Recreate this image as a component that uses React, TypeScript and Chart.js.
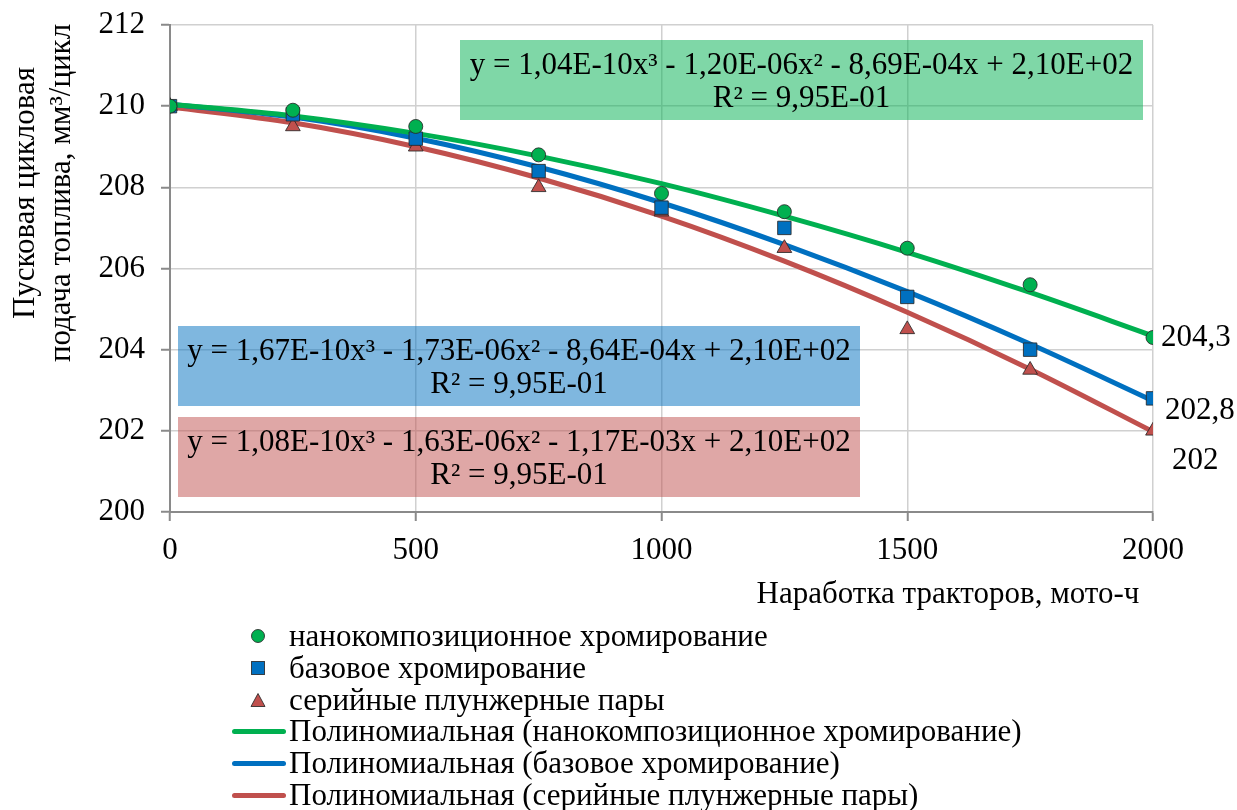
import React, { useEffect, useRef } from 'react';
import { Chart, registerables } from 'chart.js';

Chart.register(...registerables);

// ---------- data ----------
const X_VALUES = [0, 250, 500, 750, 1000, 1250, 1500, 1750, 2000];

const SERIES_NAMES = [
  'нанокомпозиционное хромирование',
  'базовое хромирование',
  'серийные плунжерные пары',
];

const NANO_POINTS = [210.0, 209.9, 209.5, 208.8, 207.85, 207.4, 206.5, 205.6, 204.3];
const BASE_POINTS = [210.0, 209.8, 209.2, 208.4, 207.5, 207.0, 205.3, 204.0, 202.8];
const SERIAL_POINTS = [210.0, 209.5, 209.0, 208.0, 207.4, 206.5, 204.5, 203.5, 202.0];

// trend curves at the same x positions
const NANO_TREND = [210.05, 209.76, 209.33, 208.77, 208.09, 207.29, 206.4, 205.41, 204.34];
const BASE_TREND = [210.05, 209.73, 209.21, 208.5, 207.62, 206.59, 205.43, 204.14, 202.74];
const SERIAL_TREND = [209.98, 209.59, 209.0, 208.23, 207.29, 206.18, 204.92, 203.52, 201.98];

const EQUATIONS = [
  'y = 1,04E-10x³ - 1,20E-06x² - 8,69E-04x + 2,10E+02',
  'y = 1,67E-10x³ - 1,73E-06x² - 8,64E-04x + 2,10E+02',
  'y = 1,08E-10x³ - 1,63E-06x² - 1,17E-03x + 2,10E+02',
];
const R2_TEXTS = ['R² = 9,95E-01', 'R² = 9,95E-01', 'R² = 9,95E-01'];

const END_LABELS = ['204,3', '202,8', '202'];

const X_TITLE = 'Наработка тракторов, мото-ч';
const Y_TITLE = ['Пусковая цикловая', 'подача топлива, мм³/цикл'];

// ---------- styles ----------
const FONT = '"Liberation Serif", "Times New Roman", serif';
const TEXT_SIZE = 31;
const COLORS = ['#00b050', '#0070c0', '#c0504d'];
const BOX_COLORS = ['rgba(0,176,80,0.5)', 'rgba(0,112,192,0.5)', 'rgba(192,80,77,0.5)'];
const MARKER_BORDER = 'rgba(40,40,40,0.85)';

const pts = (ys: number[]) => X_VALUES.map((x, i) => ({ x, y: ys[i] }));

const overlayPlugin = {
  id: 'overlay',
  afterDraw(chart: any) {
    const ctx = chart.ctx as CanvasRenderingContext2D;
    const xs = chart.scales.x;
    const ys = chart.scales.y;
    ctx.save();

    // equation boxes [left, top, width, height]
    const boxes = [
      [460, 40, 683, 80],
      [178, 326, 682, 80],
      [178, 417, 682, 80],
    ];
    boxes.forEach((b, i) => {
      ctx.fillStyle = BOX_COLORS[i];
      ctx.fillRect(b[0], b[1], b[2], b[3]);
      ctx.fillStyle = '#000';
      ctx.font = `${TEXT_SIZE}px ${FONT}`;
      ctx.textAlign = 'center';
      ctx.textBaseline = 'middle';
      const cx = b[0] + b[2] / 2;
      ctx.fillText(EQUATIONS[i], cx, b[1] + 26);
      ctx.fillText(R2_TEXTS[i], cx, b[1] + 59);
    });

    // end labels
    const lastVals = [NANO_POINTS[8], BASE_POINTS[8], SERIAL_POINTS[8]];
    const offs = [[8, 0], [12, 12], [19, 30]];
    ctx.font = `${TEXT_SIZE}px ${FONT}`;
    ctx.textAlign = 'left';
    ctx.textBaseline = 'middle';
    lastVals.forEach((v, i) => {
      const px = xs.getPixelForValue(X_VALUES[8]);
      const py = ys.getPixelForValue(v);
      ctx.fillText(END_LABELS[i], px + offs[i][0], py + offs[i][1]);
    });

    // x title
    ctx.font = `${TEXT_SIZE}px ${FONT}`;
    ctx.textAlign = 'center';
    ctx.textBaseline = 'alphabetic';
    ctx.fillText(X_TITLE, 948, 603);

    // y title (rotated)
    ctx.translate(0, 193);
    ctx.rotate(-Math.PI / 2);
    ctx.font = `${TEXT_SIZE}px ${FONT}`;
    ctx.fillText(Y_TITLE[0], 0, 34);
    ctx.fillText(Y_TITLE[1], 0, 70);
    ctx.restore();
  },
};

function MarkerIcon({ kind, color }: { kind: string; color: string }) {
  if (kind === 'line') {
    return (
      <div style={{ position: 'absolute', left: 232, top: -2.5, width: 54, height: 5, borderRadius: 2.5, background: color }} />
    );
  }
  let shape: any = null;
  if (kind === 'circle') shape = <circle cx={10} cy={10} r={6.5} fill={color} stroke={MARKER_BORDER} strokeWidth={1} />;
  if (kind === 'rect') shape = <rect x={3.5} y={3.5} width={13} height={13} fill={color} stroke={MARKER_BORDER} strokeWidth={1} />;
  if (kind === 'triangle') shape = <polygon points="10,3.5 17,16.5 3,16.5" fill={color} stroke={MARKER_BORDER} strokeWidth={1} />;
  return (
    <svg width={20} height={20} style={{ position: 'absolute', left: 248, top: -10 }}>
      {shape}
    </svg>
  );
}

function Legend() {
  const rows = [
    ...SERIES_NAMES.map((n, i) => ({ kind: ['circle', 'rect', 'triangle'][i], color: COLORS[i], label: n })),
    ...SERIES_NAMES.map((n, i) => ({ kind: 'line', color: COLORS[i], label: `Полиномиальная (${n})` })),
  ];
  return (
    <>
      {rows.map((r, i) => {
        const cy = 636 + i * 31.8;
        return (
          <div key={i} style={{ position: 'absolute', left: 0, top: cy, width: 1237, height: 0 }}>
            <MarkerIcon kind={r.kind} color={r.color} />
            <div
              style={{
                position: 'absolute',
                left: 289,
                top: -18,
                height: 36,
                lineHeight: '36px',
                fontFamily: FONT,
                fontSize: TEXT_SIZE,
                color: '#000',
                whiteSpace: 'nowrap',
              }}
            >
              {r.label}
            </div>
          </div>
        );
      })}
    </>
  );
}

export default function App() {
  const ref = useRef<HTMLCanvasElement | null>(null);

  useEffect(() => {
    if (!ref.current) return;
    const markerBase = { showLine: false, borderWidth: 1, borderColor: MARKER_BORDER, pointBorderColor: MARKER_BORDER };
    const trendBase = { pointRadius: 0, borderWidth: 5, cubicInterpolationMode: 'monotone' as const, fill: false };
    const chart = new Chart(ref.current, {
      type: 'line',
      data: {
        datasets: [
          { ...markerBase, label: SERIES_NAMES[0], data: pts(NANO_POINTS), pointStyle: 'circle', pointRadius: 7, backgroundColor: COLORS[0], pointBackgroundColor: COLORS[0] },
          { ...markerBase, label: SERIES_NAMES[1], data: pts(BASE_POINTS), pointStyle: 'rect', pointRadius: 9.5, backgroundColor: COLORS[1], pointBackgroundColor: COLORS[1] },
          { ...markerBase, label: SERIES_NAMES[2], data: pts(SERIAL_POINTS), pointStyle: 'triangle', pointRadius: 8.5, backgroundColor: COLORS[2], pointBackgroundColor: COLORS[2] },
          { ...trendBase, label: `Полиномиальная (${SERIES_NAMES[0]})`, data: pts(NANO_TREND), borderColor: COLORS[0] },
          { ...trendBase, label: `Полиномиальная (${SERIES_NAMES[1]})`, data: pts(BASE_TREND), borderColor: COLORS[1] },
          { ...trendBase, label: `Полиномиальная (${SERIES_NAMES[2]})`, data: pts(SERIAL_TREND), borderColor: COLORS[2] },
        ] as any,
      },
      options: {
        animation: false,
        responsive: false,
        maintainAspectRatio: false,
        layout: { padding: { top: 25, right: 84, left: 0, bottom: 0 } },
        plugins: { legend: { display: false }, tooltip: { enabled: false }, title: { display: false } },
        scales: {
          x: {
            type: 'linear',
            min: 0,
            max: 2000,
            afterFit: (s: any) => { s.height = 298; },
            ticks: { stepSize: 500, color: '#000', font: { family: FONT, size: TEXT_SIZE }, padding: 11, maxRotation: 0, callback: (v: any) => String(v) },
            grid: { color: '#d0d0d0', lineWidth: 1.5, tickColor: '#8a8a8a', tickLength: 9, tickWidth: 2 },
            border: { color: '#8a8a8a', width: 2 },
          },
          y: {
            min: 200,
            max: 212,
            afterFit: (s: any) => { s.width = 170; s.paddingTop = 0; s.paddingBottom = 0; },
            ticks: { stepSize: 2, color: '#000', font: { family: FONT, size: TEXT_SIZE }, padding: 16, callback: (v: any) => String(v) },
            grid: { color: '#d0d0d0', lineWidth: 1.5, tickColor: '#8a8a8a', tickLength: 9, tickWidth: 2 },
            border: { color: '#8a8a8a', width: 2 },
          },
        },
      } as any,
      plugins: [overlayPlugin],
    });
    return () => chart.destroy();
  }, []);

  return (
    <div style={{ position: 'absolute', left: 0, top: 0, width: 1237, height: 810, background: '#fff', overflow: 'hidden' }}>
      <canvas ref={ref} width={1237} height={810} style={{ position: 'absolute', left: 0, top: 0, width: 1237, height: 810 }} />
      <Legend />
    </div>
  );
}
